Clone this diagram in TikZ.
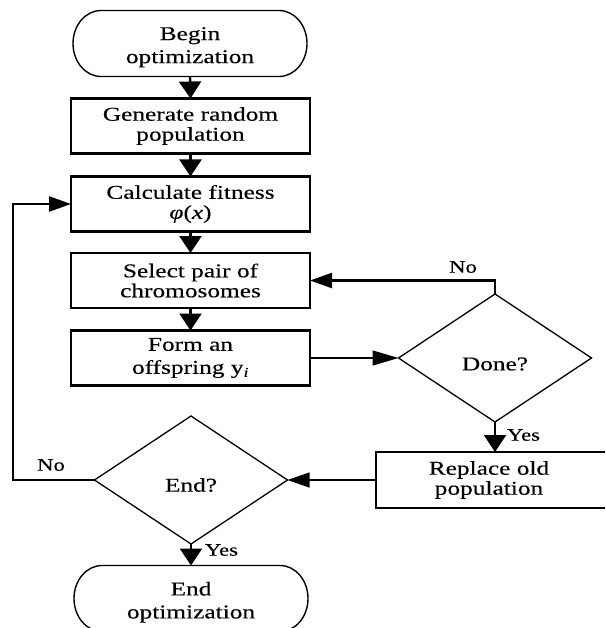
\documentclass[tikz,border=0pt]{standalone}
\usepackage{fontspec}
\setmainfont{Liberation Serif}[FakeStretch=1.3,FakeBold=0.3]
\usetikzlibrary{shapes.geometric,arrows.meta}
\begin{document}
\begin{tikzpicture}[x=1pt,y=1pt,
  box/.style={draw,line width=2.3pt,minimum width=239pt,minimum height=55pt,inner sep=0pt,outer sep=0pt,align=center,font=\fontsize{19.5}{20}\selectfont},
  stadframe/.style={minimum width=234pt,minimum height=66pt,inner sep=0pt,outer sep=0pt},
  decision/.style={draw,diamond,line width=1.3pt,minimum width=193pt,minimum height=128pt,inner sep=0pt,outer sep=0pt},
  txt/.style={font=\fontsize{19.5}{20}\selectfont,align=center,inner sep=0pt},
  stadtxt/.style={font=\fontsize{19.5}{23}\selectfont,align=center,inner sep=0pt},
  lbl/.style={font=\fontsize{17.5}{18}\selectfont,inner sep=0pt},
  thickline/.style={line width=2.4pt},
  thinline/.style={line width=1.3pt},
  vtip/.style={-{Triangle[length=17pt,width=22pt]}},
  htip/.style={-{Triangle[length=22pt,width=15pt]}},
  ltip/.style={-{Triangle[length=26pt,width=15pt]}},
  stadline/.style={line width=1.4pt}
]
\useasboundingbox (0,0) rectangle (605,-628);
\clip (0,0) rectangle (605,-628);

% Begin stadium
\node[stadframe] (begin) at (190,-43.5) {};
\draw[stadline] ([xshift=28pt]begin.north west) -- ([xshift=-28pt]begin.north east)
  arc[start angle=90,end angle=-90,x radius=28pt,y radius=33pt]
  -- ([xshift=28pt]begin.south west)
  arc[start angle=270,end angle=90,x radius=28pt,y radius=33pt] -- cycle;
\node[stadtxt] (begintxt) at (190,-47.2) {Begin\\optimization};

% Process boxes
\node[box] (gen) at (190.5,-126) {Generate random\\population};
\node[box] (calc) at (190.5,-204) {Calculate fitness\\\textit{φ}(\textit{x})};
\node[box] (sel) at (190.5,-280.5) {Select pair of\\chromosomes};
\node[box,font=\fontsize{19.5}{23}\selectfont] (form) at (190.5,-358) {Form an\\offspring y\textsubscript{\textit{i}}};

% Decisions
\node[decision] (done) at (495,-358) {};
\node[txt] (donetxt) at (495,-364) {Done?};
\node[decision] (endq) at (191,-480) {};
\node[txt] (endqtxt) at (191,-485) {End?};

% Replace box
\node[box,minimum width=238pt,minimum height=56pt] (repl) at (495,-480) {};
\node[txt] (repltxt) at (489,-480) {Replace old\\population};

% End stadium
\node[stadframe] (endopt) at (191,-598.5) {};
\draw[stadline] ([xshift=28pt]endopt.north west) -- ([xshift=-28pt]endopt.north east)
  arc[start angle=90,end angle=-90,x radius=28pt,y radius=33pt]
  -- ([xshift=28pt]endopt.south west)
  arc[start angle=270,end angle=90,x radius=28pt,y radius=33pt] -- cycle;
\node[stadtxt] (endopttxt) at (191,-602.2) {End\\optimization};

% Connectors
\draw[thickline,vtip] (begin.south) -- (gen.north);
\draw[thickline,vtip] (gen.south) -- (calc.north);
\draw[thickline,vtip] (calc.south) -- (sel.north);
\draw[thickline,vtip] (sel.south) -- (form.north);
\draw[thinline,ltip] (form.east) -- (done.west);
\draw[thickline,htip] (done.north) |- (sel.east);
\draw[thickline,vtip] (done.south) -- (done.south |- repl.north);
\draw[thinline,htip] (repl.west) -- (endq.east);
\coordinate (loopx) at (13,-480);
\draw[thickline,htip] (endq.west) -- (loopx) |- (calc.west);
\draw[thickline,vtip] (endq.south) -- (endopt.north);

% Labels
\node[lbl] (no1) at (463,-267) {No};
\node[lbl] (yes1) at (523.5,-435) {Yes};
\node[lbl] (no2) at (51,-465) {No};
\node[lbl] (yes2) at (221.5,-550) {Yes};
\end{tikzpicture}
\end{document}
